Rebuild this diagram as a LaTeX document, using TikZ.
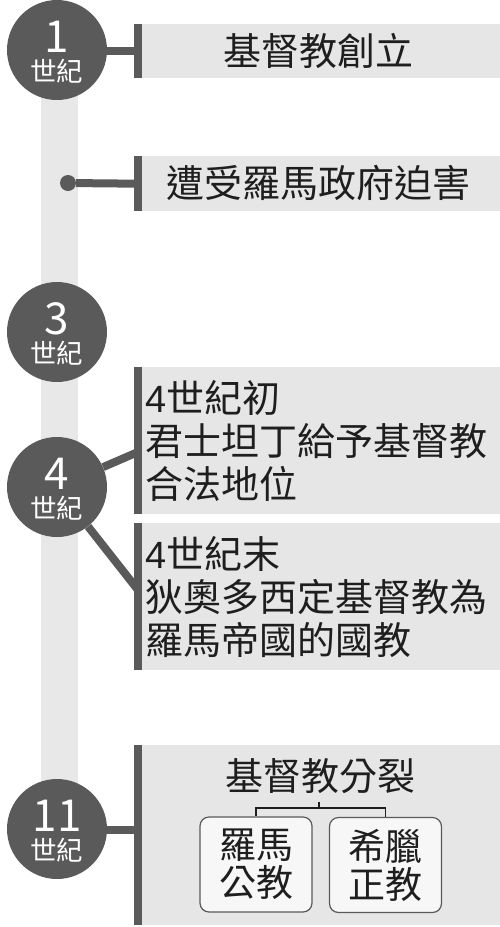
\documentclass[tikz,border=0pt]{standalone}
\usepackage{fontspec}
\setmainfont{Noto Sans CJK TC}
\newfontfamily\latinf{Liberation Sans}
\usetikzlibrary{calc}
\definecolor{dk}{HTML}{5A5A5A}
\definecolor{railc}{HTML}{E8E8E8}
\definecolor{boxc}{HTML}{E6E6E6}
\definecolor{txt}{HTML}{1E1E1E}
\definecolor{subc}{HTML}{F7F7F7}
\begin{document}
\begin{tikzpicture}[x=1pt,y=-1pt,
  circ/.style={circle,fill=dk,minimum size=100pt,inner sep=0pt},
  cnum/.style={text=white,font=\fontsize{44}{44}\selectfont,inner sep=0pt},
  cage/.style={text=white,font=\fontsize{26.5}{26.5}\selectfont,inner sep=0pt},
  evbox/.style={fill=boxc,anchor=north west,inner sep=0pt,minimum width=358pt},
  evtext/.style={text=txt,inner sep=0pt,font=\fontsize{38}{43}\selectfont},
  subbox/.style={draw=dk,line width=1.2pt,fill=subc,rounded corners=9pt,minimum width=112pt,minimum height=95pt,inner sep=0pt,text=txt,align=center,font=\fontsize{37}{38}\selectfont},
  lbar/.style={draw=dk,line width=8pt},
  conn/.style={draw=dk,line width=8pt},
  brk/.style={draw=txt,line width=1.3pt},
  dotm/.style={circle,fill=dk,minimum size=16pt,inner sep=0pt}]
\useasboundingbox (0,0) rectangle (500,927);
% rail
\fill[railc] (41,51) rectangle (78,829);
% event boxes
\node[evbox,minimum height=54pt] (b1) at (142,24) {};
\node[evbox,minimum height=55pt] (b2) at (142,156) {};
\node[evbox,minimum height=147pt] (b3) at (142,367) {};
\node[evbox,minimum height=147pt] (b4) at (142,523) {};
\node[evbox,minimum height=180pt] (b5) at (142,745) {};
\foreach \b in {b1,b2,b3,b4,b5}{
  \draw[lbar] ($(\b.north west)+(-4,0)$) -- ($(\b.south west)+(-4,0)$);
}
% texts
\node[evtext] (t1) at (318,51) {基督教創立};
\node[evtext] (t2) at (318,183) {遭受羅馬政府迫害};
\node[evtext,anchor=west,align=left] (t3) at (145,441) {{\latinf 4}世紀初\\君士坦丁給予基督教\\合法地位};
\node[evtext,anchor=west,align=left] (t4) at (145,597) {{\latinf 4}世紀末\\狄奧多西定基督教為\\羅馬帝國的國教};
\node[evtext] (t5) at (320,776) {基督教分裂};
% sub boxes
\node[subbox] (rc) at (256,864.5) {羅馬\\公教};
\node[subbox] (gk) at (385.5,865) {希臘\\正教};
\coordinate (bm) at (319,808);
\draw[brk] (rc.north) |- (bm) -| (gk.north);
\draw[brk] (bm) -- ++(0,-6);
% circles
\node[circ] (c1) at (57,50) {};
\node[circ] (c3) at (57,332) {};
\node[circ] (c4) at (57,487) {};
\node[circ] (c11) at (57,829) {};
\node[dotm] (d2) at (68,183) {};
% connectors
\coordinate (e1) at ($(b1.west)+(-4,0)$);
\coordinate (e2) at ($(b2.west)+(-4,0)$);
\coordinate (e3) at (138,452);
\coordinate (e4) at (138,590);
\coordinate (e5) at (138,830);
\draw[conn] (c1.east |- e1) -- (e1);
\draw[conn] (d2) -- (e2);
\draw[conn] (c4) -- (e3);
\draw[conn] (c4) -- (e4);
\draw[conn] (c11.east |- e5) -- (e5);
% circle labels
\foreach \c/\n in {c1/1,c3/3,c4/4,c11/11}{
  \node[cnum] (\c n) at ($(\c.center)+(0,-13)$) {\n};
  \node[cage] (\c a) at ($(\c.center)+(0,21)$) {世紀};
}
\end{tikzpicture}
\end{document}
